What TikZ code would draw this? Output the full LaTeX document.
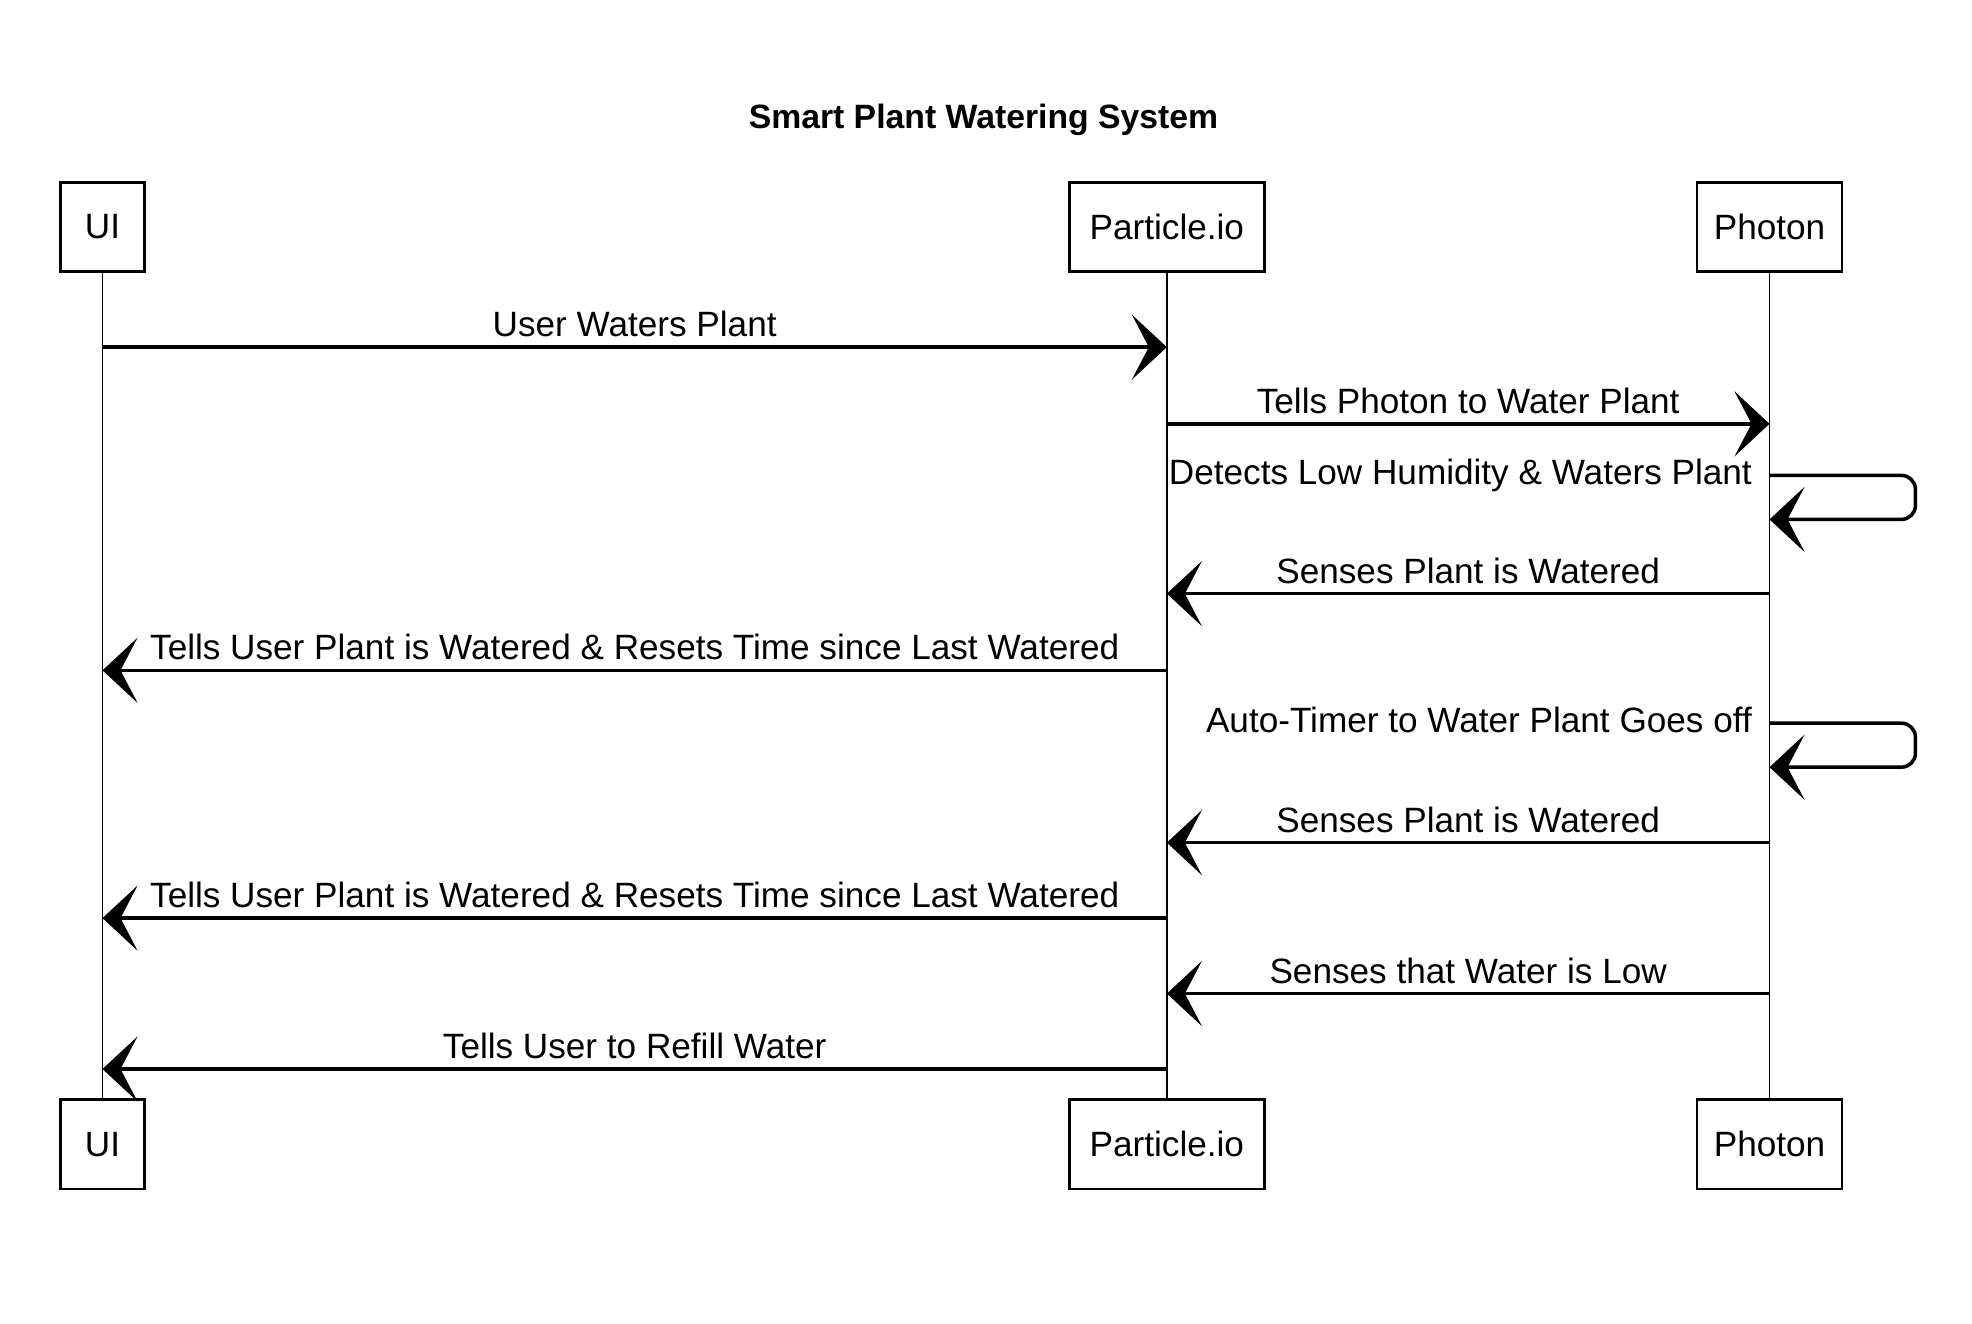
\documentclass[tikz,border=0pt]{standalone}
\usepackage{fontspec}
\setmainfont{Liberation Sans}
\usetikzlibrary{arrows.meta,positioning}

\begin{document}
\begin{tikzpicture}[
  x=0.012577cm, y=-0.012577cm,
  actor/.style={draw,line width=0.7pt,minimum height=0.893cm,inner sep=0mm,outer sep=0pt,font=\fontsize{10}{12}\selectfont},
  lifeline/.style={line width=0.45pt},
  message/.style={line width=1pt,-{Stealth[length=3.5mm,width=6.5mm,inset=1.7mm]}},
  msglabel/.style={anchor=base,yshift=3pt,inner sep=0mm,font=\fontsize{10}{12}\selectfont},
  selflabel/.style={anchor=mid east,xshift=-1.7mm,inner sep=0mm,font=\fontsize{10}{12}\selectfont}
]
\useasboundingbox (0,0) rectangle (1568,1052);

\node[font=\fontsize{9.6}{11}\selectfont\bfseries] (title) at (782,95) {Smart Plant Watering System};

% actors, top row
\node[actor,minimum width=0.843cm] (UItop) at (81.5,180.5) {UI};
\node[actor,minimum width=1.95cm,right=9.244cm of UItop] (PIOtop) {Particle.io};
\node[actor,minimum width=1.446cm,right=4.327cm of PIOtop] (PHtop) {Photon};

% actors, bottom row
\node[actor,minimum width=0.843cm,below=8.276cm of UItop] (UIbot) {UI};
\node[actor,minimum width=1.95cm,below=8.276cm of PIOtop] (PIObot) {Particle.io};
\node[actor,minimum width=1.446cm,below=8.276cm of PHtop] (PHbot) {Photon};

\draw[lifeline] (UItop) -- (UIbot);
\draw[lifeline] (PIOtop) -- (PIObot);
\draw[lifeline] (PHtop) -- (PHbot);

\coordinate (m1) at (0,276);
\coordinate (m2) at (0,337);
\coordinate (s1) at (0,378);
\coordinate (s1e) at (0,413);
\coordinate (m4) at (0,472);
\coordinate (m5) at (0,533);
\coordinate (s2) at (0,575);
\coordinate (s2e) at (0,610);
\coordinate (m7) at (0,670);
\coordinate (m8) at (0,730);
\coordinate (m9) at (0,790);
\coordinate (m10) at (0,850);

\draw[message] (UItop |- m1) -- node[midway,msglabel]{User Waters Plant} (PIOtop |- m1);
\draw[message] (PIOtop |- m2) -- node[midway,msglabel]{Tells Photon to Water Plant} (PHtop |- m2);

\node[selflabel] (self1) at (PHtop |- s1) {Detects Low Humidity \& Waters Plant};
\draw[message,rounded corners=4pt] (PHtop |- s1) -| ([xshift=1.459cm]PHtop |- s1e) -- (PHtop |- s1e);

\draw[message] (PHtop |- m4) -- node[midway,msglabel]{Senses Plant is Watered} (PIOtop |- m4);
\draw[message] (PIOtop |- m5) -- node[midway,msglabel]{Tells User Plant is Watered \& Resets Time since Last Watered} (UItop |- m5);

\node[selflabel] (self2) at (PHtop |- s2) {Auto-Timer to Water Plant Goes off};
\draw[message,rounded corners=4pt] (PHtop |- s2) -| ([xshift=1.459cm]PHtop |- s2e) -- (PHtop |- s2e);

\draw[message] (PHtop |- m7) -- node[midway,msglabel]{Senses Plant is Watered} (PIOtop |- m7);
\draw[message] (PIOtop |- m8) -- node[midway,msglabel]{Tells User Plant is Watered \& Resets Time since Last Watered} (UItop |- m8);

\draw[message] (PHtop |- m9) -- node[midway,msglabel]{Senses that Water is Low} (PIOtop |- m9);
\draw[message] (PIOtop |- m10) -- node[midway,msglabel]{Tells User to Refill Water} (UItop |- m10);

\end{tikzpicture}
\end{document}
